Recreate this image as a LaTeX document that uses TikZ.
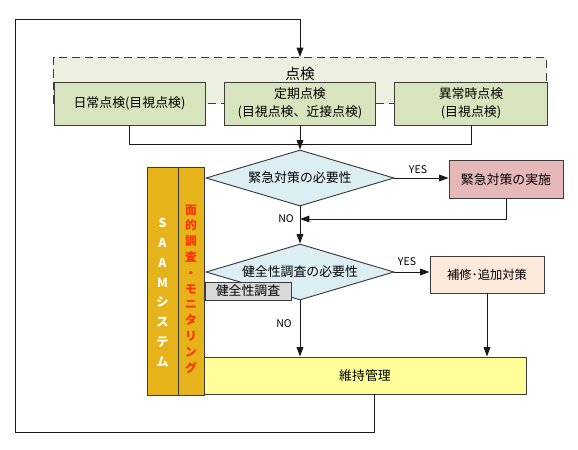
\documentclass[tikz,border=0pt]{standalone}
\usepackage{fontspec}
\setmainfont{Noto Sans CJK JP}
\usepackage{tikz}
\usetikzlibrary{arrows.meta,shapes.geometric,calc}
\definecolor{LineDark}{HTML}{3C3C3C}
\definecolor{InspBack}{HTML}{EBF1DE}
\definecolor{InspGreen}{HTML}{D7E4BD}
\definecolor{DecBlue}{HTML}{DBEEF4}
\definecolor{EmgPink}{HTML}{E6B9B8}
\definecolor{RepPeach}{HTML}{FDE9D9}
\definecolor{MaintYellow}{HTML}{FFFF99}
\definecolor{SurveyGray}{HTML}{D9D9D9}
\definecolor{BarGold}{HTML}{E6B31A}
\definecolor{MonRed}{HTML}{FF3300}
\tikzset{
  inspgroup/.style={draw=LineDark,fill=InspBack,dash pattern=on 7pt off 4pt,line width=0.8pt,minimum width=14.79cm,minimum height=1.38cm},
  inspbox/.style={draw=LineDark,fill=InspGreen,line width=0.8pt,minimum width=4.53cm,minimum height=1.29cm,align=center,inner sep=1pt,font=\fontsize{11}{15}\selectfont},
  decision/.style={diamond,aspect=3.36,draw=LineDark,fill=DecBlue,line width=0.8pt,minimum width=5.64cm,minimum height=1.68cm,inner sep=0pt},
  actionbox/.style={draw=LineDark,line width=0.8pt,minimum width=3.42cm,minimum height=1.13cm,align=center},
  barbox/.style={draw=LineDark,fill=BarGold,line width=0.8pt,minimum height=6.84cm,inner sep=0pt},
  flow/.style={-{Triangle[length=2.8mm,width=2mm]},line width=0.8pt,draw=black!90},
  link/.style={line width=0.8pt,draw=black!90},
  yesno/.style={font=\fontsize{9}{10}\selectfont}
}
\begin{document}
\begin{tikzpicture}[x=0.03cm,y=-0.03cm,font=\fontsize{11}{13}\selectfont]
\useasboundingbox (0,0) rectangle (578,450);
\node[inspgroup] (insp) at (300,80.5) {};
\node (insptitle) at (300,74) {\fontsize{12.5}{14}\selectfont 点検};
\node[inspbox] (daily) at (129.5,103.5) {日常点検(目視点検)};
\node[inspbox] (regular) at (300,103.5) {定期点検\\(目視点検、近接点検)};
\node[inspbox,minimum width=4.58cm] (abnormal) at (471,103.5) {異常時点検\\(目視点検)};
\node[barbox,fill=BarGold,minimum width=0.93cm] (saam) at (162.5,281) {};
\node[barbox,minimum width=0.78cm] (mon) at (191,281) {};
\node[text=white,align=center,font=\fontsize{10.5}{17}\selectfont\bfseries] (saamlbl) at ([yshift=-0.35cm]saam.center) {S\\A\\A\\M\\シ\\ス\\テ\\ム};
\node[text=MonRed,align=center,font=\fontsize{10}{13.5}\selectfont\bfseries] (monlbl) at ([yshift=-0.24cm]mon.center) {面\\的\\調\\査\\・\\モ\\ニ\\タ\\リ\\ン\\グ};
\node[decision] (urgent) at (300,178) {緊急対策の必要性};
\node[actionbox,fill=EmgPink] (emg) at (506,179.5) {緊急対策の実施};
\node[decision] (health) at (300,272) {健全性調査の必要性};
\node[actionbox,fill=RepPeach,minimum height=1.11cm,font=\fontsize{10.5}{12}\selectfont] (repair) at (487,274.5) {補修･追加対策};
\node[draw=LineDark,fill=SurveyGray,line width=0.8pt,minimum width=2.58cm,minimum height=0.54cm,inner sep=0pt] (survey) at (248,291) {健全性調査};
\node[draw=LineDark,fill=MaintYellow,line width=0.8pt,minimum width=9.66cm,minimum height=1.11cm] (maint) at (365,375.5) {維持管理};
\coordinate (feedjoin) at (300,144.5);
\coordinate (nomerge) at (300,219);
\coordinate (loopa) at (374,432);
\coordinate (loopb) at (15.6,432);
\coordinate (loopc) at (15.6,19.3);
\draw[link] (daily.south) |- (feedjoin) -| (abnormal.south);
\draw[flow] (regular.south) -- (urgent.north);
\draw[flow] (urgent.east) -- (emg.west |- urgent.east);
\node[yesno] (yes1) at (418,170) {YES};
\draw[flow] (emg.south) |- (nomerge);
\node[yesno] (no1) at (286,219) {NO};
\draw[flow] (urgent.south) -- (health.north);
\draw[flow] (health.east) -- (repair.west |- health.east);
\node[yesno] (yes2) at (407,262) {YES};
\draw[flow] (health.south) -- (health.south |- maint.north);
\node[yesno] (no2) at (284,324) {NO};
\draw[flow] (repair.south) -- (repair.south |- maint.north);
\draw[link] (maint.south -| loopa) -- (loopa) -- (loopb) -- (loopc) -- (loopc -| insp.north);
\draw[flow] (loopc -| insp.north) -- (insp.north);
\end{tikzpicture}
\end{document}
